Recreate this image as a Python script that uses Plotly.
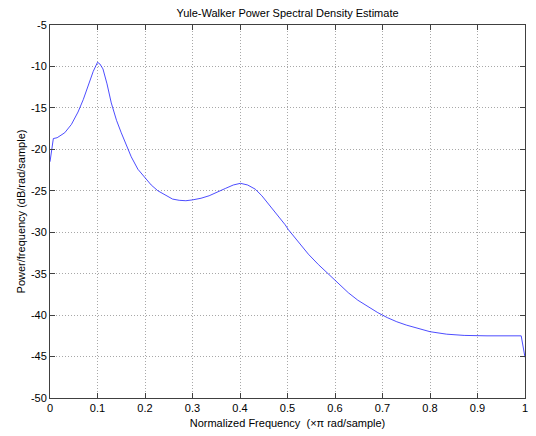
import plotly.graph_objects as go

# Yule-Walker PSD estimate (normalized frequency, x pi rad/sample) and power (dB/rad/sample)
freq = [0.0, 0.007, 0.015, 0.031, 0.045, 0.059, 0.070, 0.080, 0.091, 0.100,
        0.105, 0.1115, 0.12, 0.129, 0.14, 0.15, 0.16, 0.171, 0.185, 0.199,
        0.213, 0.227, 0.244, 0.258, 0.272, 0.286, 0.30, 0.318, 0.335, 0.352,
        0.37, 0.386, 0.401, 0.416, 0.432, 0.446, 0.46, 0.478, 0.495, 0.502,
        0.523, 0.544, 0.565, 0.586, 0.607, 0.628, 0.648, 0.669, 0.69, 0.71,
        0.73, 0.75, 0.775, 0.80, 0.835, 0.872, 0.92, 0.992, 1.0]
power_db = [-21.5, -18.7, -18.6, -18.0, -17.0, -15.5, -14.0, -12.4, -10.6, -9.5,
            -9.7, -10.3, -12.1, -14.4, -16.5, -18.0, -19.5, -20.9, -22.4, -23.4,
            -24.3, -25.0, -25.6, -26.0, -26.15, -26.2, -26.1, -25.9, -25.6, -25.2,
            -24.7, -24.3, -24.1, -24.3, -24.8, -25.6, -26.6, -27.8, -29.1, -29.7,
            -31.2, -32.65, -33.9, -35.0, -36.2, -37.3, -38.2, -39.0, -39.7, -40.3,
            -40.8, -41.2, -41.6, -42.0, -42.3, -42.45, -42.5, -42.5, -45.1]

x_ticks = [0, 0.1, 0.2, 0.3, 0.4, 0.5, 0.6, 0.7, 0.8, 0.9, 1]
x_tick_text = ["0", "0.1", "0.2", "0.3", "0.4", "0.5", "0.6", "0.7", "0.8", "0.9", "1"]
y_ticks = [-5, -10, -15, -20, -25, -30, -35, -40, -45, -50]
y_tick_text = ["-5", "-10", "-15", "-20", "-25", "-30", "-35", "-40", "-45", "-50"]

font = dict(family="Liberation Sans, Arial, sans-serif", size=11, color="black")

fig = go.Figure(go.Scatter(x=freq, y=power_db, mode="lines",
                           line=dict(color="#2020ff", width=0.8)))

axis_common = dict(showline=True, linecolor="#404040", linewidth=1, mirror="ticks",
                   ticks="inside", ticklen=5, tickcolor="#404040",
                   showgrid=True, gridcolor="#a8a8a8", griddash="1px,2px", gridwidth=1,
                   zeroline=False, tickfont=font)

fig.update_layout(
    width=536, height=436,
    margin=dict(l=50, r=8, t=25, b=34),
    paper_bgcolor="white", plot_bgcolor="white",
    showlegend=False,
    font=font,
    title=dict(text="Yule-Walker Power Spectral Density Estimate", xref="paper", x=0.5,
               xanchor="center", y=1 - 13 / 436, yanchor="middle", font=font),
    xaxis=dict(range=[0, 1], tickvals=x_ticks, ticktext=x_tick_text,
               title=dict(text="Normalized Frequency  (\u00d7\u03c0 rad/sample)", font=font, standoff=6),
               **axis_common),
    yaxis=dict(range=[-50, -5], tickvals=y_ticks, ticktext=y_tick_text,
               title=dict(text="Power/frequency (dB/rad/sample)", font=font, standoff=3),
               **axis_common),
)

fig.write_html("out.html")
